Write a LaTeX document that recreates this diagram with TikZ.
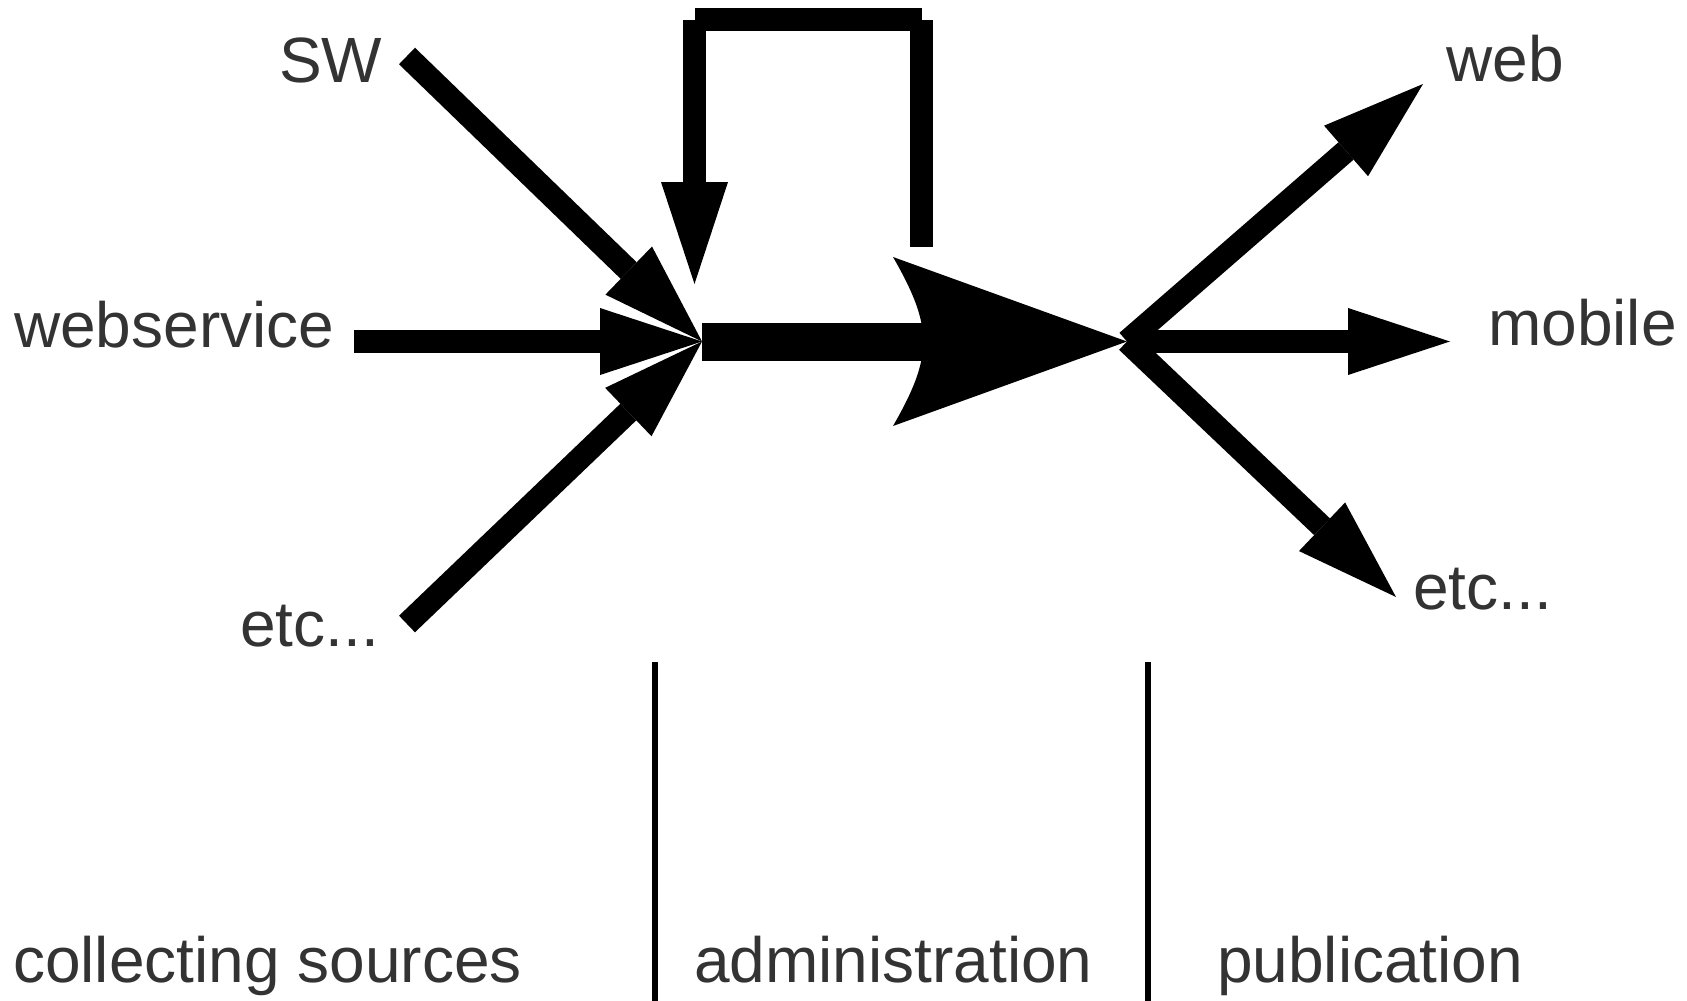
\documentclass[tikz,border=0pt]{standalone}
\usepackage{fontspec}
\setmainfont{Liberation Sans}
\usetikzlibrary{arrows.meta,calc}
\definecolor{txt}{RGB}{51,51,51}
\begin{document}
\begin{tikzpicture}[x=1pt,y=-1pt,
  lbl/.style={anchor=base west,inner sep=0pt,text=txt,font=\fontsize{64}{77}\selectfont},
  flow/.style={line width=23pt,line cap=butt,-{Triangle[length=102pt,width=67pt,line width=0pt]}},
  loopseg/.style={line width=23pt,line cap=butt},
  mainshaft/.style={line width=38pt,line cap=butt},
  divider/.style={line width=5.5pt,line cap=butt}]
\useasboundingbox (0,0) rectangle (1687,1001);
% junctions
\coordinate (J1) at (702,341.5);
\coordinate (J2) at (1127,341.5);
% free ends
\coordinate (swS) at (407,56);
\coordinate (wsS) at (354,341.5);
\coordinate (etS) at (407,624);
\coordinate (webE) at (1423,84);
\coordinate (mobE) at (1450,341.5);
\coordinate (etE) at (1396,597);
\coordinate (LS) at (921.5,247);
\coordinate (LTR) at (921.5,19.5);
\coordinate (LTL) at (694.5,19.5);
\coordinate (LE) at (694.5,284);
\coordinate (d1t) at (655,662);
\coordinate (d1b) at (655,1001);
\coordinate (d2t) at (1148,662);
\coordinate (d2b) at (1148,1001);
% labels
\node[lbl] (sw) at (279,82) {SW};
\node[lbl] (ws) at (14,347) {webservice};
\node[lbl] (etl) at (240,646) {etc...};
\node[lbl] (web) at (1446,81) {web};
\node[lbl] (mob) at (1488,345) {mobile};
\node[lbl] (etr) at (1413,609) {etc...};
\node[lbl] (col) at (13,982) {collecting sources};
\node[lbl] (adm) at (694,982) {administration};
\node[lbl] (pub) at (1217,982) {publication};
% incoming
\draw[flow] (swS) -- (J1);
\draw[flow] (wsS) -- (J1);
\draw[flow] (etS) -- (J1);
% main arrow
\draw[mainshaft] (J1) -- ($(J2)+(-190,0)$);
\fill ($(J2)$) -- ($(J2)+(-234,-84.5)$) .. controls ($(J2)+(-193.7,-14.5)$) and ($(J2)+(-193.7,14.5)$) .. ($(J2)+(-234,84.5)$) -- cycle;
% loop
\draw[loopseg] (LS) -- (LTR);
\draw[loopseg] (LTR) -- (LTL);
\draw[flow] (LTL) -- (LE);
% outgoing
\draw[flow] (J2) -- (webE);
\draw[flow] (J2) -- (mobE);
\draw[flow] (J2) -- (etE);
% dividers
\draw[divider] (d1t) -- (d1b);
\draw[divider] (d2t) -- (d2b);
\end{tikzpicture}
\end{document}
